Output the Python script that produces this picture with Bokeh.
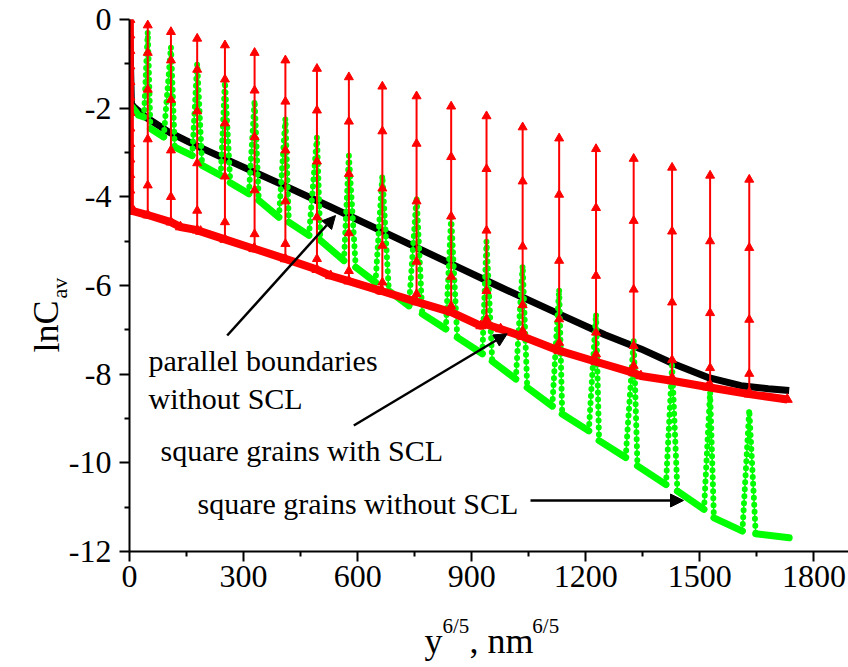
from bokeh.plotting import figure
from bokeh.models import Range1d, FixedTicker, Label, Arrow, NormalHead, CustomJSTickFormatter
from bokeh.embed import file_html
from bokeh.resources import INLINE

# ---------------- data ----------------
# grain-boundary positions, y^{6/5} in nm^{6/5}
gb_x = [48, 109, 178, 251, 329, 410, 493, 577, 665, 755, 846, 939, 1034, 1130, 1227, 1326, 1427, 1527, 1630]

# parallel boundaries without SCL (black)
pb_x = [0, 5, 12, 42, 104, 174, 279, 400, 529, 700, 850, 976, 1129, 1250, 1345, 1432, 1520, 1608, 1680, 1735]
pb_y = [0, -1.9, -1.98, -2.2, -2.54, -2.84, -3.25, -3.72, -4.23, -4.92, -5.53, -6.04, -6.64, -7.11, -7.43,
        -7.77, -8.07, -8.26, -8.33, -8.37]

# square grains with SCL (red): initial drop, baseline, spikes at the boundaries
scl_drop_x = [1, 1, 1, 1, 1, 1, 1, 1, 1, 1, 1, 1, 1]
scl_drop_y = [0, -0.35, -0.7, -1.05, -1.4, -1.75, -2.1, -2.45, -2.8, -3.15, -3.5, -3.85, -4.2]
scl_base_x = [3, 12, 134, 187, 327, 529, 661, 924, 976, 1130, 1345, 1520, 1730]
scl_base_y = [-4.3, -4.33, -4.68, -4.78, -5.17, -5.78, -6.12, -6.91, -6.98, -7.47, -8.04, -8.29, -8.57]
scl_gb_base = [-4.41, -4.57, -4.75, -4.96, -5.17, -5.4, -5.64, -5.9, -6.13, -6.37, -6.6, -6.88, -7.15,
               -7.47, -7.72, -7.97, -8.15, -8.3, -8.45]
scl_spike_levels = [
    [-0.13, -0.75, -1.58, -2.7, -3.74],
    [-0.28, -0.92, -1.81, -2.95, -4.0],
    [-0.43, -1.13, -2.07, -3.24, -4.31],
    [-0.58, -1.35, -2.34, -3.54, -4.57],
    [-0.75, -1.6, -2.65, -3.85, -4.84],
    [-0.92, -1.85, -2.95, -4.1, -5.06],
    [-1.11, -2.05, -3.2, -4.46, -5.4],
    [-1.30, -2.30, -3.48, -4.82, -5.67],
    [-1.51, -2.52, -3.81, -5.10, -5.93],
    [-1.73, -2.80, -4.10, -5.46, -6.19],
    [-1.96, -3.10, -4.44, -5.80, -6.46],
    [-2.18, -3.37, -4.76, -6.12, -6.76],
    [-2.43, -3.65, -5.12, -6.44, -7.02],
    [-2.68, -3.95, -5.44, -6.76, -7.29],
    [-2.92, -4.25, -5.78, -7.06, -7.55],
    [-3.14, -4.54, -6.09, -7.36, -7.81],
    [-3.34, -4.78, -6.38, -7.68, -8.07],
    [-3.52, -5.00, -6.62, -7.86, -8.23],
    [-3.61, -5.15, -6.77, -7.99, -8.40],
]

# square grains without SCL (green)
sq_start_x = [0, 3, 7, 24]
sq_start_y = [0, -1.0, -1.97, -2.16]
sq_bottom_x = [38, 90, 165, 240, 314, 393, 472, 564, 647, 735, 832, 928, 1016, 1112, 1208, 1305, 1411, 1511, 1612]
sq_bottom_y = [-2.2, -2.65, -3.07, -3.52, -3.93, -4.46, -4.87, -5.44, -5.93, -6.46, -6.98, -7.54, -8.11, -8.72,
               -9.28, -9.88, -10.49, -11.05, -11.54]
sq_peak_y = [-0.28, -0.62, -0.99, -1.4, -1.82, -2.23, -2.65, -3.07, -3.52, -4.0, -4.46, -5.0, -5.55, -6.08,
             -6.64, -7.23, -7.8, -8.4, -8.8]
sq_knee_x = [55, 119, 191, 265, 340, 419, 502, 595, 682, 770, 862, 954, 1046, 1138, 1235, 1336, 1441, 1537, 1647]
sq_knee_y = [-2.46, -2.88, -3.29, -3.68, -4.08, -4.57, -4.98, -5.59, -6.12, -6.64, -7.17, -7.71, -8.30, -8.9,
             -9.5, -10.07, -10.64, -11.24, -11.6]
sq_end_x = [1735]
sq_end_y = [-11.69]

x_ticks = [0, 300, 600, 900, 1200, 1500, 1800]
x_minor = [150, 450, 750, 1050, 1350, 1650]
y_ticks = [0, -2, -4, -6, -8, -10, -12]
y_minor = [-1, -3, -5, -7, -9, -11]

# ---------------- layout ----------------
W, H = 848, 667
FL, FT, FB = 129, 19, 551
X0, X1 = 0, 1891
Y0, Y1 = -12, 0


def dx(px):
    return X0 + (px - FL) * (X1 - X0) / (W - FL)


def dy(py):
    return Y1 - (py - FT) * (Y1 - Y0) / (FB - FT)


p = figure(width=W, height=H, x_range=Range1d(X0, X1), y_range=Range1d(Y0, Y1),
           output_backend="svg", toolbar_location=None,
           min_border_left=FL, min_border_right=0, min_border_top=FT, min_border_bottom=H - FB)
p.title.visible = False
p.outline_line_color = None
p.xgrid.visible = False
p.ygrid.visible = False
p.background_fill_color = "white"
p.border_fill_color = "white"

p.xaxis.ticker = FixedTicker(ticks=x_ticks, minor_ticks=x_minor)
p.yaxis.ticker = FixedTicker(ticks=y_ticks, minor_ticks=y_minor)
fmt = CustomJSTickFormatter(code="return tick.toString();")
for ax in (p.xaxis[0], p.yaxis[0]):
    ax.formatter = fmt
    ax.axis_line_width = 2
    ax.axis_line_color = "black"
    ax.major_tick_line_width = 2
    ax.major_tick_line_color = "black"
    ax.major_tick_out = 10
    ax.major_tick_in = 0
    ax.minor_tick_line_width = 2
    ax.minor_tick_line_color = "black"
    ax.minor_tick_out = 5
    ax.minor_tick_in = 0
    ax.major_label_text_font = "Liberation Serif"
    ax.major_label_text_font_size = "32px"
    ax.major_label_text_color = "black"
p.yaxis.major_label_standoff = 8
p.xaxis.major_label_standoff = 4

GREEN = "#00FF00"
RED = "#FF0000"

# black: parallel boundaries without SCL
p.line(pb_x, pb_y, line_color="black", line_width=7, line_join="round")

# green: square grains without SCL
path_x = list(sq_start_x)
path_y = list(sq_start_y)
flank_xs, flank_ys = [], []
plat_xs = [[sq_start_x[-2], sq_start_x[-1], sq_bottom_x[0]]]
plat_ys = [[sq_start_y[-2], sq_start_y[-1], sq_bottom_y[0]]]
for i in range(len(gb_x)):
    path_x += [sq_bottom_x[i], gb_x[i], sq_knee_x[i]]
    path_y += [sq_bottom_y[i], sq_peak_y[i], sq_knee_y[i]]
    flank_xs.append([sq_bottom_x[i], gb_x[i], sq_knee_x[i]])
    flank_ys.append([sq_bottom_y[i], sq_peak_y[i], sq_knee_y[i]])
    if i + 1 < len(gb_x):
        plat_xs.append([sq_knee_x[i], sq_bottom_x[i + 1]])
        plat_ys.append([sq_knee_y[i], sq_bottom_y[i + 1]])
    else:
        plat_xs.append([sq_knee_x[i], sq_end_x[0]])
        plat_ys.append([sq_knee_y[i], sq_end_y[0]])
path_x += sq_end_x
path_y += sq_end_y
p.line(path_x, path_y, line_color=GREEN, line_width=1.5)
p.multi_line(plat_xs, plat_ys, line_color=GREEN, line_width=7, line_cap="round", line_join="round")
p.multi_line(flank_xs, flank_ys, line_color=GREEN, line_width=6, line_cap="round", line_dash="0 7")

# red: square grains with SCL
base_pts = sorted(list(zip(scl_base_x, scl_base_y)) + list(zip(gb_x, scl_gb_base)))
red_x = list(scl_drop_x) + [pt[0] for pt in base_pts]
red_y = list(scl_drop_y) + [pt[1] for pt in base_pts]
p.line(red_x, red_y, line_color=RED, line_width=8, line_join="round")
p.multi_line([[x, x] for x in gb_x],
             [[b, lv[0]] for b, lv in zip(scl_gb_base, scl_spike_levels)],
             line_color=RED, line_width=2)
mk_x, mk_y = [], []
for x, lv in zip(gb_x, scl_spike_levels):
    for v in lv:
        mk_x.append(x)
        mk_y.append(v)
p.scatter(mk_x, mk_y, marker="triangle", size=9, fill_color=RED, line_color=RED)
p.scatter(red_x, red_y, marker="triangle", size=10, fill_color=RED, line_color=RED)

# annotations inside the plot
FONT = "Liberation Serif"
for txt, px, py in [("parallel boundaries", 148, 360), ("without SCL", 148, 398),
                    ("square grains with SCL", 160, 450), ("square grains without SCL", 197, 503)]:
    p.add_layout(Label(x=dx(px), y=dy(py), text=txt, text_font=FONT, text_font_size="30px",
                       text_align="left", text_baseline="alphabetic", text_color="black"))

for (sx, sy, ex, ey) in [(226.7, 335, 335, 215), (353.3, 425, 506.7, 333.3), (530, 500, 683, 500)]:
    p.add_layout(Arrow(end=NormalHead(size=13, fill_color="black", line_color="black", line_width=1),
                       x_start=dx(sx), y_start=dy(sy), x_end=dx(ex), y_end=dy(ey),
                       line_width=2.5, line_color="black"))

# axis titles (x: y^{6/5}, nm^{6/5}; y: lnC_av), kept in the side panels so they are not clipped
NB = "\u00a0"
p.add_layout(Label(x=dx(424), y=dy(640), text="y" + NB * 3 + ", nm", text_font=FONT, text_font_size="36px",
                   text_align="left", text_baseline="alphabetic", text_color="black"), "below")
p.add_layout(Label(x=dx(442), y=dy(625), text="6/5" + NB * 12 + "6/5", text_font=FONT,
                   text_font_size="21px", text_align="left", text_baseline="alphabetic",
                   text_color="black"), "below")
for txt, px, py, fs in [("lnC", 46, 352, "36px"), ("av", 59, 298, "22px")]:
    p.add_layout(Label(x=dx(px), y=dy(py), text=txt, text_font=FONT, text_font_size=fs, angle=1.5708,
                       text_align="left", text_baseline="alphabetic", text_color="black"), "left")

open("out.html", "w").write(file_html(p, INLINE))
